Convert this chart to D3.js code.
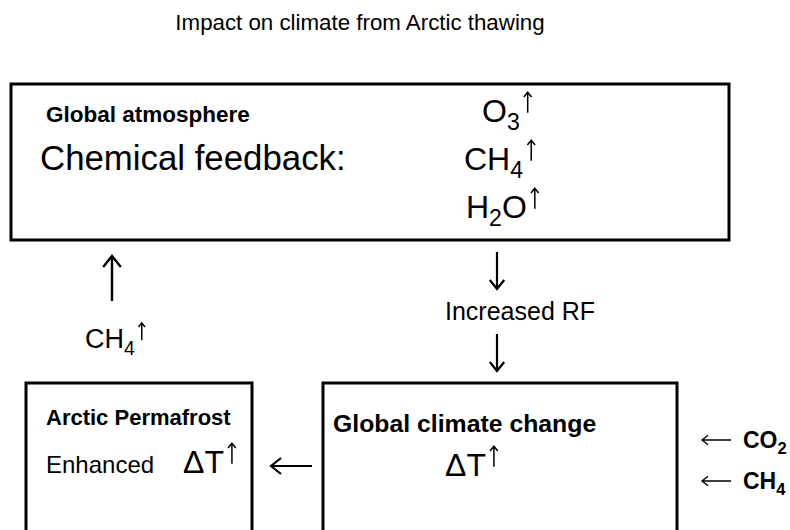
<!DOCTYPE html>
<html>
<head>
<meta charset="utf-8">
<script src="https://cdn.jsdelivr.net/npm/d3@7"></script>
<style>
  body { margin: 0; background: #fff; }
  svg { display: block; font-family: "Liberation Sans", Arial, sans-serif; }
</style>
</head>
<body>
<svg id="graph"></svg>
<script>
// text content of the diagram
const titleText = "Impact on climate from Arctic thawing";
const boxTitles = ["Global atmosphere", "Arctic Permafrost", "Global climate change"];
const feedbackText = "Chemical feedback:";
const feedbackSpecies = ["O_3", "CH_4", "H_2O"];
const emittedSpecies = "CH_4";
const forcingText = "Increased RF";
const enhancedText = "Enhanced";
const warmingText = "ΔT";
const driverSpecies = ["CO_2", "CH_4"];

const width = 790;
const height = 530;
const svg = d3.select("#graph").attr("width", width).attr("height", height);

// layout
const boxes = [
  { x: 11, y: 84, w: 718, h: 156 },
  { x: 26, y: 383, w: 226, h: 170 },
  { x: 323, y: 383, w: 354, h: 170 }
];

// split "CH_4" into normal / subscript runs
function formulaParts(f) {
  return f.split(/(_\d)/).filter((s) => s.length).map((s) =>
    s[0] === "_" ? { t: s.slice(1), sub: true } : { t: s, sub: false });
}

function arrow(g, x1, y1, x2, y2, head, sw) {
  const a = Math.atan2(y2 - y1, x2 - x1);
  const hl = head, hw = head * 0.8;
  const p = d3.path();
  p.moveTo(x1, y1);
  p.lineTo(x2, y2);
  p.moveTo(x2 - hl * Math.cos(a) + hw * Math.sin(a), y2 - hl * Math.sin(a) - hw * Math.cos(a));
  p.lineTo(x2, y2);
  p.lineTo(x2 - hl * Math.cos(a) - hw * Math.sin(a), y2 - hl * Math.sin(a) + hw * Math.cos(a));
  g.append("path").attr("d", p.toString())
    .attr("fill", "none").attr("stroke", "#000")
    .attr("stroke-width", sw || 2.2).attr("stroke-linejoin", "miter");
}

// formula text with subscripts, optionally followed by a small "rising" arrow
function formula(g, f, x, y, size, opts = {}) {
  const t = g.append("text").attr("x", x).attr("y", y)
    .attr("font-size", size)
    .attr("font-weight", opts.bold ? "bold" : null);
  let shift = 0;
  formulaParts(f).forEach((p) => {
    const target = p.sub ? size * 0.25 : 0;
    t.append("tspan")
      .attr("font-size", p.sub ? size * 0.72 : size)
      .attr("dy", target - shift)
      .text(p.t);
    shift = target;
  });
  if (opts.up) {
    const b = t.node().getBBox();
    const cap = size * 0.716;
    const ax = b.x + b.width + size * 0.25;
    arrow(g, ax, y - cap * 0.4, ax, y - cap * 1.3, size * 0.15, 1.5);
  }
  return t;
}

// title
svg.append("text")
  .attr("x", 360).attr("y", 30)
  .attr("text-anchor", "middle")
  .attr("font-size", 22.3)
  .text(titleText);

// boxes
svg.append("g")
  .selectAll("rect")
  .data(boxes)
  .join("rect")
  .attr("x", (d) => d.x).attr("y", (d) => d.y)
  .attr("width", (d) => d.w).attr("height", (d) => d.h)
  .attr("fill", "none").attr("stroke", "#000").attr("stroke-width", 3);

const labelPos = [
  { x: 46, y: 122, size: 22.5 },
  { x: 46, y: 425, size: 22 },
  { x: 333, y: 432, size: 24.8 }
];
svg.append("g")
  .selectAll("text")
  .data(boxTitles)
  .join("text")
  .attr("x", (d, i) => labelPos[i].x)
  .attr("y", (d, i) => labelPos[i].y)
  .attr("font-size", (d, i) => labelPos[i].size)
  .attr("font-weight", "bold")
  .text((d) => d);

// global atmosphere content
svg.append("text").attr("x", 40).attr("y", 170).attr("font-size", 34.8).text(feedbackText);
const speciesPos = [{ x: 482, y: 122 }, { x: 464, y: 170 }, { x: 466, y: 218 }];
const g = svg.append("g");
feedbackSpecies.forEach((f, i) => formula(g, f, speciesPos[i].x, speciesPos[i].y, 32, { up: true }));

// left branch: permafrost CH4 up to atmosphere
arrow(g, 112, 301, 112, 256, 11, 2.4);
formula(g, emittedSpecies, 85, 348, 27, { up: true });

// right branch: atmosphere -> RF -> climate change
arrow(g, 497, 252, 497, 289, 9, 2.2);
g.append("text").attr("x", 445).attr("y", 320).attr("font-size", 25).text(forcingText);
arrow(g, 497, 334, 497, 371, 9, 2.2);

// permafrost box
g.append("text").attr("x", 46).attr("y", 473).attr("font-size", 24).text(enhancedText);
formula(g, warmingText, 183, 473, 32, { up: true });

// climate change -> permafrost
arrow(g, 312, 466, 271, 466, 10, 2.2);

// climate change box
formula(g, warmingText, 445, 476, 32, { up: true });

// external drivers
const driverY = [448, 489];
driverSpecies.forEach((f, i) => {
  arrow(g, 731, driverY[i] - 8, 702, driverY[i] - 8, 6, 1.4);
  formula(g, f, 743, driverY[i], 23, { bold: true });
});
</script>
</body>
</html>
